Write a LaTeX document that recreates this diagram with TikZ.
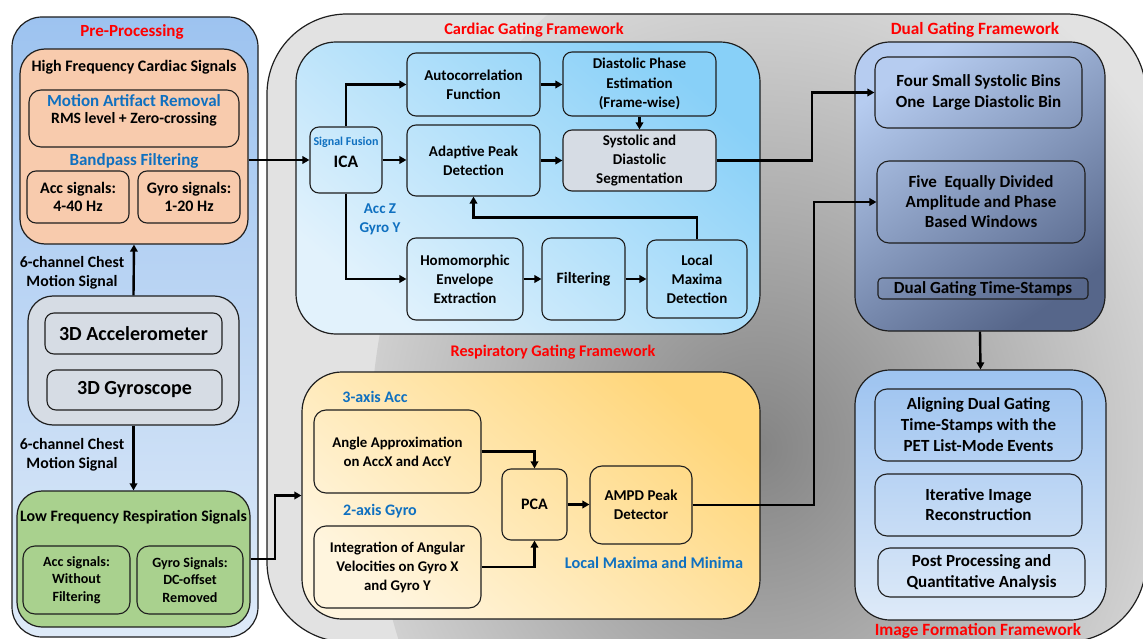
\documentclass[tikz,border=0pt]{standalone}
\usepackage{fontspec}
\setmainfont{Carlito}
\usetikzlibrary{arrows.meta,calc,shadings}
\definecolor{ttlred}{HTML}{FF0000}
\definecolor{txtblue}{HTML}{0F70C0}
\definecolor{peach}{HTML}{F8CBAD}
\definecolor{lgreen}{HTML}{A9D18E}
\definecolor{sgray}{HTML}{D6DCE4}
\definecolor{edge}{HTML}{1E1E1E}
\definecolor{preTop}{HTML}{9DC3F0}
\definecolor{preBot}{HTML}{DEEAF8}
\definecolor{cardDark}{HTML}{88D0F8}
\definecolor{cardLight}{HTML}{E2F2FC}
\definecolor{respDark}{HTML}{FFD67A}
\definecolor{respLight}{HTML}{FFF5DE}
\definecolor{dualLight}{HTML}{B6CCF0}
\definecolor{dualDark}{HTML}{56668A}
\definecolor{grayDark}{HTML}{848484}
\definecolor{grayLight}{HTML}{E2E2E2}
\begin{document}
\begin{tikzpicture}[x=1pt,y=-1pt,
  fs/.style 2 args={font=\bfseries\fontsize{#1}{#2}\selectfont},
  bx/.style={draw=edge, line width=1.1pt, rounded corners=9pt, align=center, inner sep=0pt, text=black},
  panel/.style={draw=edge, line width=1.2pt, inner sep=0pt},
  arr/.style={line width=2.4pt, -{Triangle[length=7pt,width=7.5pt]}, black},
  ttl/.style={text=ttlred, fs={#1}{19}},
  blu/.style={text=txtblue, align=center},
]
\path[use as bounding box] (0,0) rectangle (1143,639);

% ---------- big gray panel ----------
\node[panel, rounded corners=80pt, minimum width=879pt, minimum height=628pt, fill=grayLight,
  path picture={\shade[inner color=grayDark, outer color=grayLight]
     ($(path picture bounding box.center)+(103.5,120)$) ellipse (440pt and 540pt);}]
  (gray) at (706.5,328) {};

% ---------- Pre-processing panel ----------
\node[panel, rounded corners=30pt, minimum width=246pt, minimum height=620pt,
  top color=preTop, bottom color=preBot] (pre) at (135,327) {};
\node[ttl=17] (pretitle) at (132,32) {Pre-Processing};

\node[panel, rounded corners=25pt, fill=peach, minimum width=228pt, minimum height=195pt] (orange) at (134,146.5) {};
\node[fs={16}{18}] (hfcs) at (134,67) {High Frequency Cardiac Signals};
\node[bx, rounded corners=12pt, minimum width=210pt, minimum height=57pt] (mar) at (134,118.5) {};
\node[blu, fs={17}{19}] (martitle) at (134,101) {Motion Artifact Removal};
\node[fs={15.7}{18}] (rms) at (134,119) {RMS level + Zero-crossing};
\node[blu, fs={17}{19}] (bpf) at (134,161) {Bandpass Filtering};
\node[bx, fs={16}{17.5}, minimum width=102pt, minimum height=52pt] (accsig) at (78,197) {Acc signals:\\4-40 Hz};
\node[bx, fs={16}{17.5}, minimum width=102pt, minimum height=52pt] (gyrosig) at (189,197) {Gyro signals:\\1-20 Hz};

\node[panel, rounded corners=25pt, fill=sgray, minimum width=211pt, minimum height=129pt] (sens) at (133.5,360.5) {};
\node[bx, fs={20}{22}, minimum width=177pt, minimum height=41pt] (accel) at (133.5,333.5) {3D Accelerometer};
\node[bx, fs={20}{22}, minimum width=175pt, minimum height=40pt] (gyro) at (134.5,390) {3D Gyroscope};

\node[fs={15.8}{19}, align=center] (lab1) at (72,272.5) {6-channel Chest\\Motion Signal};
\node[fs={15.8}{18.5}, align=center] (lab2) at (72,455) {6-channel Chest\\Motion Signal};

\node[panel, rounded corners=25pt, fill=lgreen, minimum width=233pt, minimum height=136pt] (green) at (133.5,559) {};
\node[fs={15.9}{18}] (lfrs) at (133.5,517) {Low Frequency Respiration Signals};
\node[bx, fs={14.1}{17.5}, rounded corners=12pt, minimum width=107pt, minimum height=68pt] (accnf) at (76.5,580) {Acc signals:\\Without\\Filtering};
\node[bx, fs={14.1}{17.5}, rounded corners=12pt, minimum width=106pt, minimum height=68pt] (gyrodc) at (190,580) {Gyro Signals:\\DC-offset\\Removed};

% ---------- Cardiac ----------
\node[ttl=16.4] (cardtitle) at (534,30) {Cardiac Gating Framework};
\node[panel, rounded corners=40pt, minimum width=464pt, minimum height=292pt,
  top color=cardDark, bottom color=cardLight, shading angle=-40] (card) at (528,188) {};
\node[bx, minimum width=72pt, minimum height=66pt] (ica) at (346,160) {};
\node[blu, fs={12}{13}] (sf) at (346,142) {Signal Fusion};
\node[fs={17.5}{19}] (icat) at (346,162) {ICA};
\node[bx, fs={15}{19}, minimum width=133pt, minimum height=63pt] (auto) at (473.5,84.5) {Autocorrelation\\Function};
\node[bx, fs={15}{19.5}, minimum width=153pt, minimum height=64pt] (dia) at (639.5,84) {Diastolic Phase\\Estimation\\(Frame-wise)};
\node[bx, fs={15}{19}, minimum width=133pt, minimum height=71pt] (adapt) at (473.5,160.5) {Adaptive Peak\\Detection};
\node[bx, fs={15}{19}, fill=sgray, minimum width=153pt, minimum height=61pt] (sys) at (639.5,160.5) {Systolic and\\Diastolic\\Segmentation};
\node[bx, fs={15}{19}, minimum width=116pt, minimum height=82pt] (homo) at (465,279) {Homomorphic\\Envelope\\Extraction};
\node[bx, fs={15.8}{19}, minimum width=83pt, minimum height=82pt] (filt) at (583.5,279) {Filtering};
\node[bx, fs={15}{19}, minimum width=100pt, minimum height=78pt] (locmax) at (697,279) {Local\\Maxima\\Detection};
\node[blu, fs={15}{19}] (acczg) at (380,219.5) {Acc Z\\Gyro Y};

% ---------- Respiratory ----------
\node[ttl=16.2] (resptitle) at (553,352) {Respiratory Gating Framework};
\node[panel, rounded corners=40pt, minimum width=458pt, minimum height=247pt,
  top color=respDark, bottom color=respLight, shading angle=-40] (resp) at (531,495.5) {};
\node[blu, fs={16}{18}] (acc3) at (375,397) {3-axis Acc};
\node[bx, fs={14.8}{19}, rounded corners=12pt, minimum width=167pt, minimum height=83pt] (angle) at (397.5,451.5) {Angle Approximation\\on AccX and AccY};
\node[blu, fs={16}{18}] (gyro2) at (380,511) {2-axis Gyro};
\node[bx, fs={14.8}{19}, rounded corners=12pt, minimum width=167pt, minimum height=82pt] (integ) at (397.5,567) {Integration of Angular\\Velocities on Gyro X\\and Gyro Y};
\node[bx, fs={16}{19}, minimum width=65pt, minimum height=71pt] (pca) at (534.5,504.5) {PCA};
\node[bx, fs={15}{19}, rounded corners=12pt, minimum width=102pt, minimum height=78pt] (ampd) at (641,505) {AMPD Peak\\Detector};
\node[blu, fs={16.3}{18}] (lmm) at (654,563) {Local Maxima and Minima};

% ---------- Dual gating ----------
\node[ttl=17.2] (dualtitle) at (975,30) {Dual Gating Framework};
\node[panel, rounded corners=35pt, minimum width=250pt, minimum height=289pt,
  top color=dualLight, bottom color=dualDark, shading angle=35] (dual) at (980,186.5) {};
\node[bx, fs={17}{21}, rounded corners=12pt, minimum width=207pt, minimum height=71pt] (four) at (978.5,92.5) {Four Small Systolic Bins\\One\ \ Large Diastolic Bin};
\node[bx, fs={17}{20}, rounded corners=12pt, minimum width=208pt, minimum height=82pt] (five) at (981,202) {Five\ \ Equally Divided\\Amplitude and Phase\\Based Windows};
\node[bx, fs={17}{19}, rounded corners=4pt, minimum width=210pt, minimum height=21pt] (stamps) at (983,288.5) {Dual Gating Time-Stamps};

% ---------- Image formation ----------
\node[panel, rounded corners=35pt, minimum width=251pt, minimum height=250pt,
  top color=preTop, bottom color=preBot] (image) at (980.5,495) {};
\node[bx, fs={17}{21}, rounded corners=12pt, minimum width=207pt, minimum height=72pt] (align) at (978.5,425) {Aligning Dual Gating\\Time-Stamps with the\\PET List-Mode Events};
\node[bx, fs={17}{20}, rounded corners=12pt, minimum width=207pt, minimum height=62pt] (iter) at (978.5,505) {Iterative Image\\Reconstruction};
\node[bx, fs={17}{21}, rounded corners=12pt, minimum width=207pt, minimum height=49pt] (post) at (981.5,572.5) {Post Processing and\\Quantitative Analysis};
\node[ttl=17.2] (imgtitle) at (978,631) {Image Formation Framework};

% ---------- junction coordinates ----------
\coordinate (j1) at (812,0);
\coordinate (j2) at (814,0);
\coordinate (j3) at (275,0);

% ---------- connectors ----------
\draw[arr] (sens.north) -- (orange.south);
\draw[arr] (sens.south) -- (green.north);
\draw[arr] (ica.west -| orange.east) -- (ica.west);
\draw[arr] (green.east) -- (green.east -| j3) |- (resp.west);
\draw[arr] (ica.north) |- (auto.west);
\draw[arr] (ica.east) -- (ica.east -| adapt.west);
\draw[arr] (ica.south) |- (homo.west);
\draw[arr] (auto.east) -- (auto.east -| dia.west);
\draw[arr] (adapt.east) -- (adapt.east -| sys.west);
\draw[arr] (dia.south) -- (sys.north);
\draw[arr] (homo.east) -- (homo.east -| filt.west);
\draw[arr] (filt.east) -- (filt.east -| locmax.west);
\draw[arr] (locmax.north) -- ++(0,-22) -| (adapt.south);
\draw[arr] (sys.east) -- (sys.east -| j1) |- (four.west);
\draw[arr] (angle.east) -| (pca.north);
\draw[arr] (integ.east) -| (pca.south);
\draw[arr] (pca.east) -- (pca.east -| ampd.west);
\draw[arr] (ampd.east) -- (ampd.east -| j2) |- (five.west);
\draw[arr] (dual.south) -- (image.north);
\end{tikzpicture}
\end{document}
